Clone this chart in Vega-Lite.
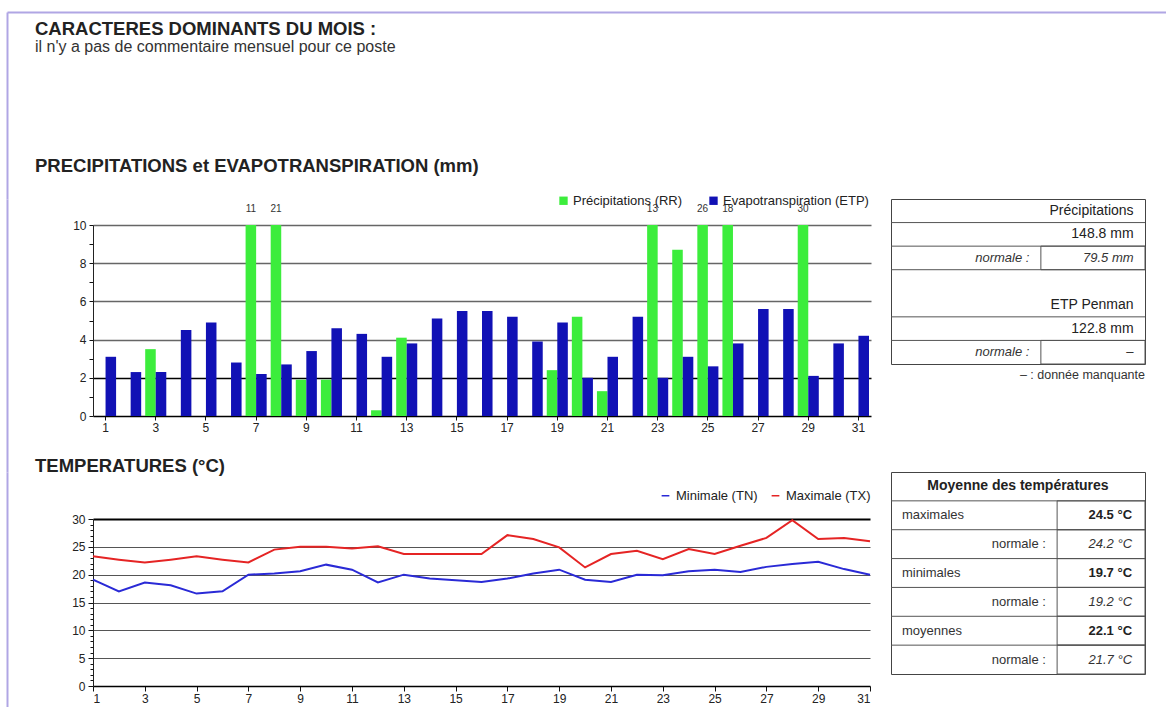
{
"$schema": "https://vega.github.io/schema/vega-lite/v6.json",
"background": "white",
"padding": {"left": 7, "top": 12, "right": 0, "bottom": 0},
"config": {
  "font": "Liberation Sans",
  "view": {"stroke": null},
  "axis": {"labelFont": "Liberation Sans", "labelColor": "#222", "labelFontSize": 12, "domainColor": "#111", "tickColor": "#111"},
  "legend": {"labelFont": "Liberation Sans", "labelColor": "#222"},
  "title": {"font": "Liberation Sans", "color": "#222"}
},
"columns": 3,
"bounds": "flush",
"spacing": {"row": 0, "column": 20},
"resolve": {"scale": {"color": "independent"}, "legend": {"color": "independent"}},
"concat": [
  {
    "width": 66, "height": 187,
    "data": {"values": [{}]},
    "mark": {"type": "text", "text": ""},
    "encoding": {
      "x": {"datum": 0, "type": "quantitative", "scale": {"domain": [0, 1], "range": [0, 1160]}, "axis": {"orient": "top", "domainColor": "#b0a6e4", "domainWidth": 2, "ticks": false, "labels": false, "grid": false, "title": null}},
      "y": {"datum": 0, "type": "quantitative", "scale": {"domain": [0, 1]}, "axis": {"orient": "left", "domainColor": "#b0a6e4", "domainWidth": 2, "ticks": false, "labels": false, "grid": false, "title": null}}
    },
    "title": {"text": "CARACTERES DOMINANTS DU MOIS :", "subtitle": "il n'y a pas de commentaire mensuel pour ce poste", "anchor": "start", "frame": "group", "dx": 28, "dy": 47, "limit": 1000, "fontSize": 18.5, "fontWeight": "bold", "subtitleFontSize": 16, "subtitleColor": "#333", "subtitleFont": "Liberation Sans", "subtitlePadding": 1}
  },
  {"width": 778, "height": 187, "data": {"values": []}, "mark": "text", "encoding": {}},
  {"width": 254, "height": 187, "data": {"values": []}, "mark": "text", "encoding": {}},
  {
    "width": 66, "height": 273,
    "data": {"values": [{}]},
    "mark": {"type": "text", "text": ""},
    "encoding": {
      "y": {"datum": 0, "type": "quantitative", "scale": {"domain": [0, 1]}, "axis": {"orient": "left", "domainColor": "#b0a6e4", "domainWidth": 2, "ticks": false, "labels": false, "grid": false, "title": null}}
    }
  },
  {
    "width": 778, "height": 217,
    "title": {"text": "PRECIPITATIONS et EVAPOTRANSPIRATION (mm)", "anchor": "start", "frame": "group", "dx": -58, "offset": 19, "limit": 1000, "fontSize": 18.5, "fontWeight": "bold"},
    "data": {"values": [
      {"day":1,"rr":0,"etp":3.1},{"day":2,"rr":0,"etp":2.3},{"day":3,"rr":3.5,"etp":2.3},{"day":4,"rr":0,"etp":4.5},
      {"day":5,"rr":0,"etp":4.9},{"day":6,"rr":0,"etp":2.8},{"day":7,"rr":11,"etp":2.2},{"day":8,"rr":21,"etp":2.7},
      {"day":9,"rr":1.9,"etp":3.4},{"day":10,"rr":1.9,"etp":4.6},{"day":11,"rr":0,"etp":4.3},{"day":12,"rr":0.3,"etp":3.1},
      {"day":13,"rr":4.1,"etp":3.8},{"day":14,"rr":0,"etp":5.1},{"day":15,"rr":0,"etp":5.5},{"day":16,"rr":0,"etp":5.5},
      {"day":17,"rr":0,"etp":5.2},{"day":18,"rr":0,"etp":3.9},{"day":19,"rr":2.4,"etp":4.9},{"day":20,"rr":5.2,"etp":2.0},
      {"day":21,"rr":1.3,"etp":3.1},{"day":22,"rr":0,"etp":5.2},{"day":23,"rr":13,"etp":2.0},{"day":24,"rr":8.7,"etp":3.1},
      {"day":25,"rr":26,"etp":2.6},{"day":26,"rr":18,"etp":3.8},{"day":27,"rr":0,"etp":5.6},{"day":28,"rr":0,"etp":5.6},
      {"day":29,"rr":30,"etp":2.1},{"day":30,"rr":0,"etp":3.8},{"day":31,"rr":0,"etp":4.2}
    ]},
    "transform": [{"fold": ["rr", "etp"], "as": ["key", "mm"]}],
    "encoding": {
      "x": {"field": "day", "type": "ordinal", "scale": {"paddingInner": 0.16, "paddingOuter": 0.08},
            "axis": {"values": [1,3,5,7,9,11,13,15,17,19,21,23,25,27,29,31], "labelAngle": 0, "title": null, "tickSize": 4, "labelPadding": 2, "domainColor": "#000", "domainWidth": 1.5, "grid": false}},
      "xOffset": {"field": "key", "type": "nominal", "scale": {"domain": ["rr", "etp"], "paddingInner": 0}},
      "y": {"field": "mm", "type": "quantitative", "scale": {"domain": [0, 10], "range": [217, 26], "clamp": true, "nice": false},
            "axis": {"values": [0,1,2,3,4,5,6,7,8,9,10], "labelExpr": "datum.value % 2 == 0 ? datum.label : ''", "title": null, "grid": true,
                     "gridColor": {"condition": {"test": "datum.value == 2", "value": "#000"}, "value": "#666"},
                     "gridOpacity": {"condition": {"test": "datum.value % 2 == 1 || datum.value == 0", "value": 0}, "value": 1},
                     "gridWidth": 1.3, "tickSize": 4, "labelPadding": 3, "domainColor": "#222"}}
    },
    "layer": [
      {"mark": {"type": "bar"},
       "encoding": {"color": {"field": "key", "type": "nominal", "scale": {"domain": ["rr", "etp"], "range": ["#3ced3c", "#1111b5"]},
         "legend": {"orient": "none", "legendX": 464, "legendY": -5, "direction": "horizontal", "title": null,
                    "labelExpr": "datum.value == 'rr' ? 'Précipitations (RR)' : 'Evapotranspiration (ETP)'",
                    "symbolType": "square", "symbolSize": 70, "labelFontSize": 13, "columnPadding": 24, "labelOffset": 3, "labelLimit": 300}}}},
      {"transform": [{"filter": "datum.key == 'rr' && datum.mm > 10"}],
       "mark": {"type": "text", "dy": -16, "fontSize": 10, "color": "#333"},
       "encoding": {"text": {"field": "mm", "type": "quantitative", "format": "d"}}}
    ]
  },
  {
    "width": 254, "height": 165,
    "view": {"stroke": "#444", "strokeWidth": 1},
    "title": {"text": "– : donnée manquante", "orient": "bottom", "anchor": "end", "frame": "group", "fontSize": 12.5, "fontWeight": "normal", "offset": 4, "color": "#333"},
    "data": {"values": [
      {"r": 1, "label": "", "value": "Précipitations"},
      {"r": 2, "label": "", "value": "148.8 mm"},
      {"r": 3, "label": "normale :", "value": "79.5 mm"},
      {"r": 4, "label": "", "value": ""},
      {"r": 5, "label": "", "value": "ETP Penman"},
      {"r": 6, "label": "", "value": "122.8 mm"},
      {"r": 7, "label": "normale :", "value": "–"}
    ]},
    "encoding": {"y": {"field": "r", "type": "ordinal", "axis": null, "scale": {"paddingInner": 0, "paddingOuter": 0}}},
    "layer": [
      {"transform": [{"filter": "datum.r != 1 && datum.r != 5"}],
       "mark": {"type": "rule", "color": "#555", "strokeWidth": 1},
       "encoding": {"y": {"field": "r", "type": "ordinal", "bandPosition": 0},
                    "x": {"datum": 0, "type": "quantitative", "scale": {"domain": [0, 1]}, "axis": null},
                    "x2": {"datum": 1}}},
      {"transform": [{"filter": "datum.label == 'normale :'"}],
       "mark": {"type": "rect", "filled": false, "color": "#555", "strokeWidth": 1},
       "encoding": {"x": {"datum": 0.59, "type": "quantitative", "axis": null}, "x2": {"datum": 1}}},
      {"transform": [{"filter": "datum.label == 'normale :'"}],
       "mark": {"type": "text", "align": "right", "fontStyle": "italic", "fontSize": 13, "color": "#333"},
       "encoding": {"x": {"datum": 0.545, "type": "quantitative", "axis": null}, "text": {"field": "label"}}},
      {"transform": [{"filter": "datum.label == 'normale :'"}],
       "mark": {"type": "text", "align": "right", "fontStyle": "italic", "fontSize": 13, "color": "#333"},
       "encoding": {"x": {"datum": 0.955, "type": "quantitative", "axis": null}, "text": {"field": "value"}}},
      {"transform": [{"filter": "datum.label != 'normale :'"}],
       "mark": {"type": "text", "align": "right", "fontSize": 14, "color": "#222"},
       "encoding": {"x": {"datum": 0.955, "type": "quantitative", "axis": null}, "text": {"field": "value"}}}
    ]
  },
  {
    "width": 66, "height": 240,
    "data": {"values": [{}]},
    "mark": {"type": "text", "text": ""},
    "encoding": {
      "y": {"datum": 0, "type": "quantitative", "scale": {"domain": [0, 1]}, "axis": {"orient": "left", "domainColor": "#b0a6e4", "domainWidth": 2, "ticks": false, "labels": false, "grid": false, "title": null}}
    }
  },
  {
    "width": 777, "height": 214,
    "title": {"text": "TEMPERATURES (°C)", "anchor": "start", "frame": "group", "dx": -58, "offset": -3, "limit": 1000, "fontSize": 18.5, "fontWeight": "bold"},
    "data": {"values": [
      {"day":1,"tn":19.1,"tx":23.3},{"day":2,"tn":17.0,"tx":22.7},{"day":3,"tn":18.6,"tx":22.2},{"day":4,"tn":18.1,"tx":22.7},
      {"day":5,"tn":16.6,"tx":23.3},{"day":6,"tn":17.0,"tx":22.7},{"day":7,"tn":20.0,"tx":22.2},{"day":8,"tn":20.2,"tx":24.5},
      {"day":9,"tn":20.6,"tx":25.0},{"day":10,"tn":21.8,"tx":25.0},{"day":11,"tn":20.9,"tx":24.7},{"day":12,"tn":18.6,"tx":25.1},
      {"day":13,"tn":20.0,"tx":23.7},{"day":14,"tn":19.3,"tx":23.7},{"day":15,"tn":19.0,"tx":23.7},{"day":16,"tn":18.7,"tx":23.7},
      {"day":17,"tn":19.3,"tx":27.1},{"day":18,"tn":20.2,"tx":26.4},{"day":19,"tn":20.9,"tx":24.9},{"day":20,"tn":19.1,"tx":21.3},
      {"day":21,"tn":18.7,"tx":23.7},{"day":22,"tn":20.0,"tx":24.3},{"day":23,"tn":19.9,"tx":22.8},{"day":24,"tn":20.6,"tx":24.6},
      {"day":25,"tn":20.9,"tx":23.7},{"day":26,"tn":20.5,"tx":25.2},{"day":27,"tn":21.4,"tx":26.6},{"day":28,"tn":21.9,"tx":29.8},
      {"day":29,"tn":22.3,"tx":26.4},{"day":30,"tn":21.0,"tx":26.6},{"day":31,"tn":20.0,"tx":26.0}
    ]},
    "transform": [{"fold": ["tn", "tx"], "as": ["key", "t"]}],
    "mark": {"type": "line", "strokeWidth": 2},
    "encoding": {
      "x": {"field": "day", "type": "quantitative", "scale": {"domain": [1, 31], "nice": false, "zero": false},
            "axis": {"values": [1,3,5,7,9,11,13,15,17,19,21,23,25,27,29,31], "title": null, "grid": false, "tickSize": 5, "labelPadding": 2, "domainColor": "#000", "domainWidth": 1.5}},
      "y": {"field": "t", "type": "quantitative", "scale": {"domain": [0, 30], "range": [214, 47], "nice": false},
            "axis": {"values": [0,1,2,3,4,5,6,7,8,9,10,11,12,13,14,15,16,17,18,19,20,21,22,23,24,25,26,27,28,29,30],
                     "labelExpr": "datum.value % 5 == 0 ? datum.label : ''", "title": null, "grid": true,
                     "gridColor": {"condition": {"test": "datum.value == 30", "value": "#000"}, "value": "#555"},
                     "gridWidth": {"condition": {"test": "datum.value == 30", "value": 2.2}, "value": 1.2},
                     "gridOpacity": {"condition": {"test": "datum.value % 5 != 0 || datum.value == 0", "value": 0}, "value": 1},
                     "tickSize": {"condition": {"test": "datum.value % 5 == 0", "value": 5}, "value": 3},
                     "labelPadding": 3, "domainColor": "#222"}},
      "color": {"field": "key", "type": "nominal", "scale": {"domain": ["tn", "tx"], "range": ["#2a2ad6", "#e52424"]},
                "legend": {"orient": "none", "legendX": 566, "legendY": 17, "direction": "horizontal", "title": null,
                           "labelExpr": "datum.value == 'tn' ? 'Minimale (TN)' : 'Maximale (TX)'",
                           "symbolType": "stroke", "symbolSize": 60, "symbolStrokeWidth": 1.5, "labelFontSize": 13, "columnPadding": 10, "labelLimit": 300}}
    }
  },
  {
    "width": 254, "height": 202,
    "view": {"stroke": "#444", "strokeWidth": 1},
    "data": {"values": [
      {"r": 1, "label": "Moyenne des températures", "value": ""},
      {"r": 2, "label": "maximales", "value": "24.5 °C"},
      {"r": 3, "label": "normale :", "value": "24.2 °C"},
      {"r": 4, "label": "minimales", "value": "19.7 °C"},
      {"r": 5, "label": "normale :", "value": "19.2 °C"},
      {"r": 6, "label": "moyennes", "value": "22.1 °C"},
      {"r": 7, "label": "normale :", "value": "21.7 °C"}
    ]},
    "encoding": {"y": {"field": "r", "type": "ordinal", "axis": null, "scale": {"paddingInner": 0, "paddingOuter": 0}}},
    "layer": [
      {"transform": [{"filter": "datum.r != 1"}],
       "mark": {"type": "rule", "color": "#555", "strokeWidth": 1},
       "encoding": {"y": {"field": "r", "type": "ordinal", "bandPosition": 0},
                    "x": {"datum": 0, "type": "quantitative", "scale": {"domain": [0, 1]}, "axis": null},
                    "x2": {"datum": 1}}},
      {"transform": [{"filter": "datum.r != 1"}],
       "mark": {"type": "rect", "filled": false, "color": "#555", "strokeWidth": 1},
       "encoding": {"x": {"datum": 0.654, "type": "quantitative", "axis": null}, "x2": {"datum": 1}}},
      {"transform": [{"filter": "datum.r == 1"}],
       "mark": {"type": "text", "align": "center", "fontSize": 14, "fontWeight": "bold", "color": "#222"},
       "encoding": {"x": {"datum": 0.5, "type": "quantitative", "axis": null}, "text": {"field": "label"}}},
      {"transform": [{"filter": "datum.r != 1 && datum.label != 'normale :'"}],
       "mark": {"type": "text", "align": "left", "fontSize": 13, "color": "#333"},
       "encoding": {"x": {"datum": 0.043, "type": "quantitative", "axis": null}, "text": {"field": "label"}}},
      {"transform": [{"filter": "datum.label == 'normale :'"}],
       "mark": {"type": "text", "align": "right", "fontSize": 13, "color": "#333"},
       "encoding": {"x": {"datum": 0.61, "type": "quantitative", "axis": null}, "text": {"field": "label"}}},
      {"transform": [{"filter": "datum.r != 1 && datum.label != 'normale :'"}],
       "mark": {"type": "text", "align": "right", "fontSize": 13, "fontWeight": "bold", "color": "#222"},
       "encoding": {"x": {"datum": 0.949, "type": "quantitative", "axis": null}, "text": {"field": "value"}}},
      {"transform": [{"filter": "datum.label == 'normale :'"}],
       "mark": {"type": "text", "align": "right", "fontSize": 13, "fontStyle": "italic", "color": "#333"},
       "encoding": {"x": {"datum": 0.949, "type": "quantitative", "axis": null}, "text": {"field": "value"}}}
    ]
  }
]
}
